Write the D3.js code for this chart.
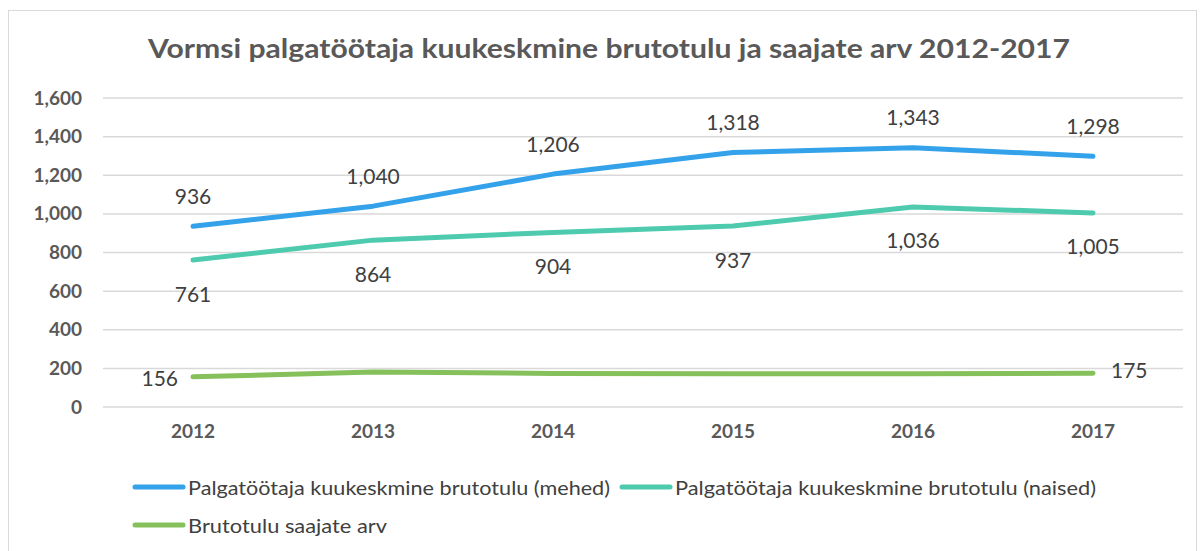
<!DOCTYPE html>
<html>
<head>
<meta charset="utf-8">
<script src="https://cdn.jsdelivr.net/npm/d3@7"></script>
<style>
  body { margin: 0; background: #fff; }
  svg { display: block; font-family: Lato, "Open Sans", sans-serif; }
</style>
</head>
<body>
<div id="chart"></div>
<script>
var width = 1200;
var height = 551;

var years = ["2012", "2013", "2014", "2015", "2016", "2017"];
var mehed = [936, 1040, 1206, 1318, 1343, 1298];
var naised = [761, 864, 904, 937, 1036, 1005];
var saajad = [156, 181, 174, 172, 172, 175];
var yTicks = [0, 200, 400, 600, 800, 1000, 1200, 1400, 1600];

var seriesNames = [
  "Palgatöötaja kuukeskmine brutotulu (mehed)",
  "Palgatöötaja kuukeskmine brutotulu (naised)",
  "Brutotulu saajate arv"
];
var colors = ["#33a2ea", "#4ecbae", "#86c05a"];

var svg = d3.select("#chart").append("svg")
  .attr("width", width)
  .attr("height", height);

// outer frame
svg.append("rect")
  .attr("x", 8.5).attr("y", 10.5)
  .attr("width", 1188).attr("height", 560)
  .attr("fill", "#fff")
  .attr("stroke", "#d9d9d9");

// title (stretched to the width it takes in the original font)
svg.append("text")
  .attr("x", 148).attr("y", 58)
  .attr("font-size", 27)
  .attr("font-weight", "bold")
  .attr("fill", "#595959")
  .attr("textLength", 922)
  .attr("lengthAdjust", "spacingAndGlyphs")
  .text("Vormsi palgatöötaja kuukeskmine brutotulu ja saajate arv 2012-2017");

var x = d3.scaleBand().domain(years).range([103, 1183]);
var y = d3.scaleLinear().domain([0, 1600]).range([407, 98]);
var cx = function (d, i) { return x(years[i]) + x.bandwidth() / 2; };

// gridlines
svg.append("g")
  .selectAll("line")
  .data(yTicks)
  .enter().append("line")
  .attr("x1", 103).attr("x2", 1183)
  .attr("y1", function (d) { return y(d); })
  .attr("y2", function (d) { return y(d); })
  .attr("stroke", "#d9d9d9")
  .attr("stroke-width", 1.5);

// y axis
var yAxis = d3.axisLeft(y).tickValues(yTicks).tickSize(0).tickPadding(21)
  .tickFormat(d3.format(","));
svg.append("g")
  .attr("transform", "translate(103,0)")
  .call(yAxis)
  .call(function (g) { g.select(".domain").remove(); })
  .selectAll("text")
  .attr("font-family", "Lato, sans-serif")
  .attr("font-size", 19)
  .attr("font-weight", "bold")
  .attr("fill", "#595959");

// x axis
var xAxis = d3.axisBottom(x).tickSize(0).tickPadding(18);
svg.append("g")
  .attr("transform", "translate(0,407)")
  .call(xAxis)
  .call(function (g) { g.select(".domain").remove(); })
  .selectAll("text")
  .attr("font-family", "Lato, sans-serif")
  .attr("font-size", 19)
  .attr("font-weight", "bold")
  .attr("fill", "#595959");

var line = d3.line()
  .x(cx)
  .y(function (d) { return y(d); });

[mehed, naised, saajad].forEach(function (vals, k) {
  svg.append("path")
    .datum(vals)
    .attr("d", line)
    .attr("fill", "none")
    .attr("stroke", colors[k])
    .attr("stroke-width", 5)
    .attr("stroke-linecap", "round")
    .attr("stroke-linejoin", "round");
});

function labelStyle(sel) {
  sel.attr("font-size", 21)
    .attr("fill", "#404040")
    .attr("dominant-baseline", "central");
}

// labels: men above
svg.append("g").selectAll("text")
  .data(mehed).enter().append("text")
  .attr("x", cx)
  .attr("y", function (d) { return y(d) - 31; })
  .attr("text-anchor", "middle")
  .call(labelStyle)
  .text(d3.format(","));

// labels: women below
svg.append("g").selectAll("text")
  .data(naised).enter().append("text")
  .attr("x", cx)
  .attr("y", function (d) { return y(d) + 33; })
  .attr("text-anchor", "middle")
  .call(labelStyle)
  .text(d3.format(","));

// labels: recipients, only first and last
var last = saajad.length - 1;
svg.append("text")
  .attr("x", cx(saajad[0], 0) - 15)
  .attr("y", y(saajad[0]) + 1)
  .attr("text-anchor", "end")
  .call(labelStyle)
  .text(saajad[0]);
svg.append("text")
  .attr("x", cx(saajad[last], last) + 18)
  .attr("y", y(saajad[last]) - 4)
  .attr("text-anchor", "start")
  .call(labelStyle)
  .text(saajad[last]);

// legend
var legendPos = [[133, 487], [620, 487], [133, 525]];
var legendLen = [422, 421, 199];
var legend = svg.append("g").selectAll("g")
  .data(seriesNames).enter().append("g")
  .attr("transform", function (d, i) { return "translate(" + legendPos[i][0] + "," + legendPos[i][1] + ")"; });
legend.append("line")
  .attr("x1", 2).attr("x2", 50)
  .attr("stroke", function (d, i) { return colors[i]; })
  .attr("stroke-width", 5)
  .attr("stroke-linecap", "round");
legend.append("text")
  .attr("x", 55)
  .attr("font-size", 20)
  .attr("fill", "#404040")
  .attr("dominant-baseline", "central")
  .attr("textLength", function (d, i) { return legendLen[i]; })
  .attr("lengthAdjust", "spacingAndGlyphs")
  .text(function (d) { return d; });
</script>
</body>
</html>
